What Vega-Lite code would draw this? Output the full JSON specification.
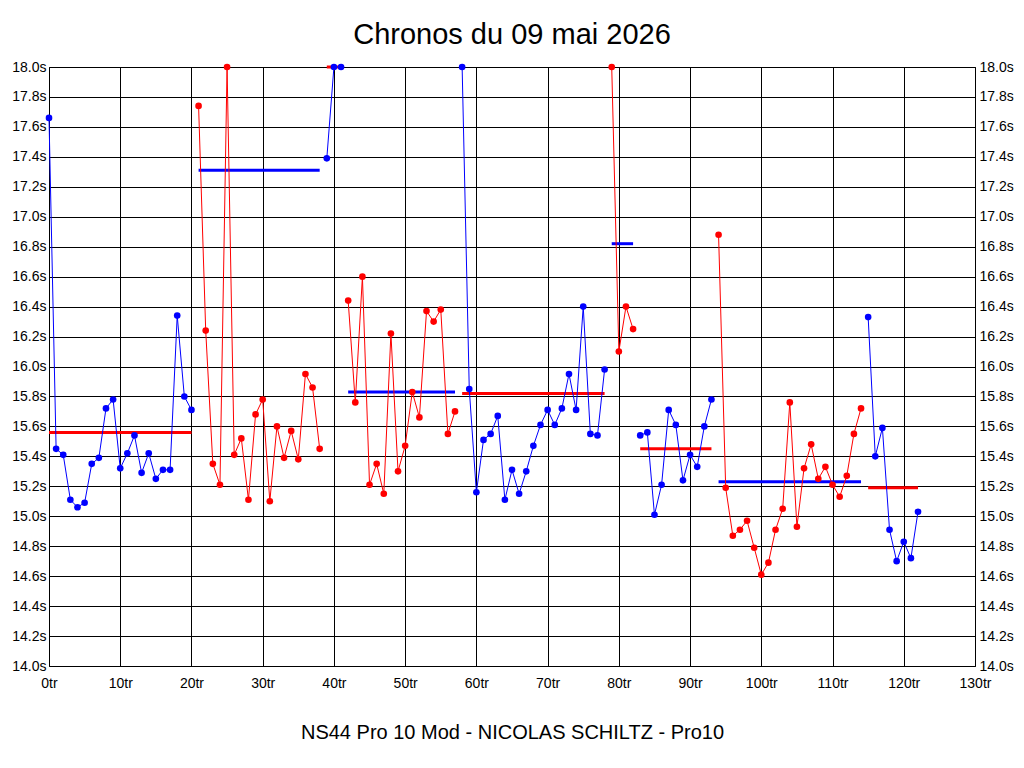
{
  "$schema": "https://vega.github.io/schema/vega-lite/v6.json",
  "description": "Chronos du 09 mai 2026 - temps au tour par relais",
  "width": 926,
  "height": 599,
  "autosize": "none",
  "padding": {"left": 49, "top": 67, "right": 49, "bottom": 102},
  "background": "white",
  "config": {
    "font": "Liberation Sans",
    "view": {"stroke": "black", "strokeWidth": 1},
    "axis": {
      "domain": false,
      "ticks": false,
      "grid": false,
      "gridColor": "black",
      "gridOpacity": 1,
      "gridWidth": 1,
      "labelColor": "black",
      "labelFont": "Liberation Sans",
      "labelFontSize": 14,
      "labelFlush": false,
      "titleColor": "black",
      "titleFont": "Liberation Sans",
      "titleFontWeight": "normal"
    }
  },
  "title": {
    "text": "Chronos du 09 mai 2026",
    "font": "Liberation Sans",
    "fontSize": 29,
    "fontWeight": "normal",
    "color": "black",
    "anchor": "middle",
    "offset": 10
  },
  "datasets": {
    "laps": [
      {"lap": 0, "t": 17.66, "stint": 1},
      {"lap": 1, "t": 15.45, "stint": 1},
      {"lap": 2, "t": 15.41, "stint": 1},
      {"lap": 3, "t": 15.11, "stint": 1},
      {"lap": 4, "t": 15.06, "stint": 1},
      {"lap": 5, "t": 15.09, "stint": 1},
      {"lap": 6, "t": 15.35, "stint": 1},
      {"lap": 7, "t": 15.39, "stint": 1},
      {"lap": 8, "t": 15.72, "stint": 1},
      {"lap": 9, "t": 15.78, "stint": 1},
      {"lap": 10, "t": 15.32, "stint": 1},
      {"lap": 11, "t": 15.42, "stint": 1},
      {"lap": 12, "t": 15.54, "stint": 1},
      {"lap": 13, "t": 15.29, "stint": 1},
      {"lap": 14, "t": 15.42, "stint": 1},
      {"lap": 15, "t": 15.25, "stint": 1},
      {"lap": 16, "t": 15.31, "stint": 1},
      {"lap": 17, "t": 15.31, "stint": 1},
      {"lap": 18, "t": 16.34, "stint": 1},
      {"lap": 19, "t": 15.80, "stint": 1},
      {"lap": 20, "t": 15.71, "stint": 1},
      {"lap": 21, "t": 17.74, "stint": 2},
      {"lap": 22, "t": 16.24, "stint": 2},
      {"lap": 23, "t": 15.35, "stint": 2},
      {"lap": 24, "t": 15.21, "stint": 2},
      {"lap": 25, "t": 18.0, "stint": 2},
      {"lap": 26, "t": 15.41, "stint": 2},
      {"lap": 27, "t": 15.52, "stint": 2},
      {"lap": 28, "t": 15.11, "stint": 2},
      {"lap": 29, "t": 15.68, "stint": 2},
      {"lap": 30, "t": 15.78, "stint": 2},
      {"lap": 31, "t": 15.10, "stint": 2},
      {"lap": 32, "t": 15.60, "stint": 2},
      {"lap": 33, "t": 15.39, "stint": 2},
      {"lap": 34, "t": 15.57, "stint": 2},
      {"lap": 35, "t": 15.38, "stint": 2},
      {"lap": 36, "t": 15.95, "stint": 2},
      {"lap": 37, "t": 15.86, "stint": 2},
      {"lap": 38, "t": 15.45, "stint": 2},
      {"lap": 39, "t": 17.39, "stint": 3},
      {"lap": 40, "t": 18.0, "stint": 3},
      {"lap": 41, "t": 18.0, "stint": 3},
      {"lap": 42, "t": 16.44, "stint": 4},
      {"lap": 43, "t": 15.76, "stint": 4},
      {"lap": 44, "t": 16.60, "stint": 4},
      {"lap": 45, "t": 15.21, "stint": 4},
      {"lap": 46, "t": 15.35, "stint": 4},
      {"lap": 47, "t": 15.15, "stint": 4},
      {"lap": 48, "t": 16.22, "stint": 4},
      {"lap": 49, "t": 15.30, "stint": 4},
      {"lap": 50, "t": 15.47, "stint": 4},
      {"lap": 51, "t": 15.83, "stint": 4},
      {"lap": 52, "t": 15.66, "stint": 4},
      {"lap": 53, "t": 16.37, "stint": 4},
      {"lap": 54, "t": 16.30, "stint": 4},
      {"lap": 55, "t": 16.38, "stint": 4},
      {"lap": 56, "t": 15.55, "stint": 4},
      {"lap": 57, "t": 15.70, "stint": 4},
      {"lap": 58, "t": 18.0, "stint": 5},
      {"lap": 59, "t": 15.85, "stint": 5},
      {"lap": 60, "t": 15.16, "stint": 5},
      {"lap": 61, "t": 15.51, "stint": 5},
      {"lap": 62, "t": 15.55, "stint": 5},
      {"lap": 63, "t": 15.67, "stint": 5},
      {"lap": 64, "t": 15.11, "stint": 5},
      {"lap": 65, "t": 15.31, "stint": 5},
      {"lap": 66, "t": 15.15, "stint": 5},
      {"lap": 67, "t": 15.30, "stint": 5},
      {"lap": 68, "t": 15.47, "stint": 5},
      {"lap": 69, "t": 15.61, "stint": 5},
      {"lap": 70, "t": 15.71, "stint": 5},
      {"lap": 71, "t": 15.61, "stint": 5},
      {"lap": 72, "t": 15.72, "stint": 5},
      {"lap": 73, "t": 15.95, "stint": 5},
      {"lap": 74, "t": 15.71, "stint": 5},
      {"lap": 75, "t": 16.40, "stint": 5},
      {"lap": 76, "t": 15.55, "stint": 5},
      {"lap": 77, "t": 15.54, "stint": 5},
      {"lap": 78, "t": 15.98, "stint": 5},
      {"lap": 79, "t": 18.0, "stint": 6},
      {"lap": 80, "t": 16.10, "stint": 6},
      {"lap": 81, "t": 16.40, "stint": 6},
      {"lap": 82, "t": 16.25, "stint": 6},
      {"lap": 83, "t": 15.54, "stint": 7},
      {"lap": 84, "t": 15.56, "stint": 7},
      {"lap": 85, "t": 15.01, "stint": 7},
      {"lap": 86, "t": 15.21, "stint": 7},
      {"lap": 87, "t": 15.71, "stint": 7},
      {"lap": 88, "t": 15.61, "stint": 7},
      {"lap": 89, "t": 15.24, "stint": 7},
      {"lap": 90, "t": 15.41, "stint": 7},
      {"lap": 91, "t": 15.33, "stint": 7},
      {"lap": 92, "t": 15.60, "stint": 7},
      {"lap": 93, "t": 15.78, "stint": 7},
      {"lap": 94, "t": 16.88, "stint": 8},
      {"lap": 95, "t": 15.19, "stint": 8},
      {"lap": 96, "t": 14.87, "stint": 8},
      {"lap": 97, "t": 14.91, "stint": 8},
      {"lap": 98, "t": 14.97, "stint": 8},
      {"lap": 99, "t": 14.79, "stint": 8},
      {"lap": 100, "t": 14.61, "stint": 8},
      {"lap": 101, "t": 14.69, "stint": 8},
      {"lap": 102, "t": 14.91, "stint": 8},
      {"lap": 103, "t": 15.05, "stint": 8},
      {"lap": 104, "t": 15.76, "stint": 8},
      {"lap": 105, "t": 14.93, "stint": 8},
      {"lap": 106, "t": 15.32, "stint": 8},
      {"lap": 107, "t": 15.48, "stint": 8},
      {"lap": 108, "t": 15.25, "stint": 8},
      {"lap": 109, "t": 15.33, "stint": 8},
      {"lap": 110, "t": 15.21, "stint": 8},
      {"lap": 111, "t": 15.13, "stint": 8},
      {"lap": 112, "t": 15.27, "stint": 8},
      {"lap": 113, "t": 15.55, "stint": 8},
      {"lap": 114, "t": 15.72, "stint": 8},
      {"lap": 115, "t": 16.33, "stint": 9},
      {"lap": 116, "t": 15.40, "stint": 9},
      {"lap": 117, "t": 15.59, "stint": 9},
      {"lap": 118, "t": 14.91, "stint": 9},
      {"lap": 119, "t": 14.70, "stint": 9},
      {"lap": 120, "t": 14.83, "stint": 9},
      {"lap": 121, "t": 14.72, "stint": 9},
      {"lap": 122, "t": 15.03, "stint": 9}
    ],
    "avgs": [
      {"stint": 1, "start": 0, "end": 20, "avg": 15.56},
      {"stint": 2, "start": 21, "end": 38, "avg": 17.31},
      {"stint": 3, "start": 39, "end": 41, "avg": 18.0},
      {"stint": 4, "start": 42, "end": 57, "avg": 15.83},
      {"stint": 5, "start": 58, "end": 78, "avg": 15.82},
      {"stint": 6, "start": 79, "end": 82, "avg": 16.82},
      {"stint": 7, "start": 83, "end": 93, "avg": 15.45},
      {"stint": 8, "start": 94, "end": 114, "avg": 15.23},
      {"stint": 9, "start": 115, "end": 122, "avg": 15.19}
    ]
  },
  "layer": [
    {
      "data": {"name": "avgs"},
      "mark": {"type": "rule", "strokeWidth": 3},
      "encoding": {
        "x": {
          "field": "start",
          "type": "quantitative",
          "scale": {"domain": [0, 130], "nice": false, "zero": false},
          "axis": {
            "values": [0, 10, 20, 30, 40, 50, 60, 70, 80, 90, 100, 110, 120, 130],
            "labelExpr": "datum.value + 'tr'",
            "grid": true,
            "labelPadding": 10,
            "title": "NS44 Pro 10 Mod - NICOLAS SCHILTZ - Pro10",
            "titleFontSize": 20,
            "titlePadding": 32
          }
        },
        "x2": {"field": "end"},
        "y": {
          "field": "avg",
          "type": "quantitative",
          "scale": {"domain": [14, 18], "nice": false, "zero": false},
          "axis": {
            "orient": "left",
            "values": [14, 14.2, 14.4, 14.6, 14.8, 15, 15.2, 15.4, 15.6, 15.8, 16, 16.2, 16.4, 16.6, 16.8, 17, 17.2, 17.4, 17.6, 17.8, 18],
            "labelExpr": "format(datum.value, '.1f') + 's'",
            "grid": true,
            "labelPadding": 3,
            "title": null
          }
        },
        "color": {
          "field": "stint",
          "type": "ordinal",
          "scale": {
            "domain": [1, 2, 3, 4, 5, 6, 7, 8, 9],
            "range": ["#ff0000", "#0000ff", "#ff0000", "#0000ff", "#ff0000", "#0000ff", "#ff0000", "#0000ff", "#ff0000"]
          },
          "legend": null
        }
      }
    },
    {
      "data": {"name": "laps"},
      "mark": {"type": "line", "strokeWidth": 1},
      "encoding": {
        "x": {"field": "lap", "type": "quantitative"},
        "y": {
          "field": "t",
          "type": "quantitative",
          "axis": {
            "orient": "right",
            "values": [14, 14.2, 14.4, 14.6, 14.8, 15, 15.2, 15.4, 15.6, 15.8, 16, 16.2, 16.4, 16.6, 16.8, 17, 17.2, 17.4, 17.6, 17.8, 18],
            "labelExpr": "format(datum.value, '.1f') + 's'",
            "labelPadding": 4,
            "title": null
          }
        },
        "color": {
          "field": "stint",
          "type": "ordinal",
          "scale": {
            "domain": [1, 2, 3, 4, 5, 6, 7, 8, 9],
            "range": ["#0000ff", "#ff0000", "#0000ff", "#ff0000", "#0000ff", "#ff0000", "#0000ff", "#ff0000", "#0000ff"]
          },
          "legend": null
        }
      }
    },
    {
      "data": {"name": "laps"},
      "mark": {"type": "circle", "size": 44, "opacity": 1},
      "encoding": {
        "x": {"field": "lap", "type": "quantitative"},
        "y": {"field": "t", "type": "quantitative", "axis": null},
        "color": {
          "field": "stint",
          "type": "ordinal",
          "scale": {
            "domain": [1, 2, 3, 4, 5, 6, 7, 8, 9],
            "range": ["#0000ff", "#ff0000", "#0000ff", "#ff0000", "#0000ff", "#ff0000", "#0000ff", "#ff0000", "#0000ff"]
          },
          "legend": null
        }
      }
    }
  ],
  "resolve": {"scale": {"color": "independent"}, "axis": {"y": "independent"}}
}
